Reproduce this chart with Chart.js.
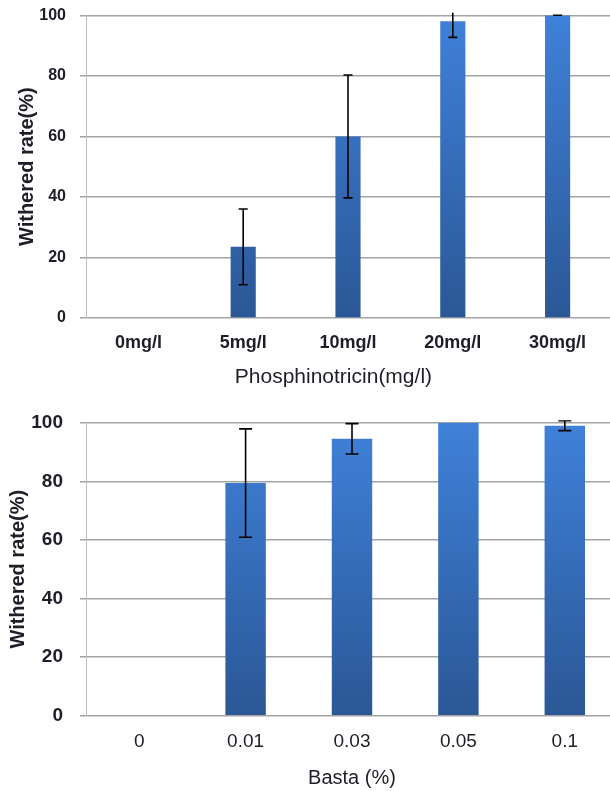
<!DOCTYPE html>
<html>
<head>
<meta charset="utf-8">
<script src="https://cdn.jsdelivr.net/npm/chart.js@4/dist/chart.umd.min.js"></script>
<style>
  html, body { margin: 0; padding: 0; background: #fff; overflow: hidden; }
  #wrap { position: relative; width: 610px; height: 791px; overflow: hidden; }
  #top { position: absolute; left: 0; top: 0; width: 610px; height: 395px; }
  #bot { position: absolute; left: 0; top: 395px; width: 618px; height: 396px; }
</style>
</head>
<body>
<div id="wrap">
  <div id="top"><canvas id="c1"></canvas></div>
  <div id="bot"><canvas id="c2"></canvas></div>
</div>
<script>
// ---- Data ----
const phosCategories = ['0mg/l', '5mg/l', '10mg/l', '20mg/l', '30mg/l'];
const phosValues     = [0, 23.5, 60, 98, 100];
const phosErrors     = [null, 12.5, 20.3, 5.3, 0];

const bastaCategories = ['0', '0.01', '0.03', '0.05', '0.1'];
const bastaValues     = [0, 79.4, 94.5, 100, 99];
const bastaErrors     = [null, 18.5, 5.2, null, 1.7];

const yTicks = [0, 20, 40, 60, 80, 100];

const FONT = "'Liberation Sans', Arial, Helvetica, sans-serif";
const TEXT = '#1e1e28';
const GRID = '#a3a3a3';

function barGradient(ctx) {
  const area = ctx.chart.chartArea;
  if (!area) return '#3569b8';
  const g = ctx.chart.ctx.createLinearGradient(0, area.top, 0, area.bottom);
  g.addColorStop(0, '#3f81d9');
  g.addColorStop(1, '#2b5796');
  return g;
}

const errorBarPlugin = {
  id: 'errorBars',
  afterDatasetsDraw(chart, args, opts) {
    const ctx = chart.ctx;
    const yScale = chart.scales.y;
    const area = chart.chartArea;
    chart.data.datasets.forEach((ds, di) => {
      const meta = chart.getDatasetMeta(di);
      const errs = ds.errors || [];
      meta.data.forEach((el, i) => {
        const e = errs[i];
        if (e === null || e === undefined) return;
        const v = ds.data[i];
        const x = el.x;
        const yHi = yScale.getPixelForValue(v + e);
        const yLo = yScale.getPixelForValue(v - e);
        const half = opts.capWidth / 2;
        ctx.save();
        ctx.beginPath();
        ctx.rect(area.left, area.top - 2.5, area.right - area.left, area.bottom - area.top + 5);
        ctx.clip();
        ctx.strokeStyle = '#000';
        ctx.lineWidth = 1.6;
        ctx.beginPath();
        ctx.moveTo(x, yHi); ctx.lineTo(x, yLo);
        ctx.moveTo(x - half, yHi); ctx.lineTo(x + half, yHi);
        ctx.moveTo(x - half, yLo); ctx.lineTo(x + half, yLo);
        ctx.stroke();
        ctx.restore();
      });
    });
  }
};

function makeChart(canvasId, cfg) {
  return new Chart(document.getElementById(canvasId), {
    type: 'bar',
    data: {
      labels: cfg.labels,
      datasets: [{
        data: cfg.values,
        errors: cfg.errors,
        backgroundColor: barGradient,
        borderWidth: 0,
        barPercentage: cfg.barPct,
        categoryPercentage: 1
      }]
    },
    options: {
      responsive: true,
      maintainAspectRatio: false,
      animation: false,
      devicePixelRatio: 1,
      layout: { padding: { top: cfg.padTop, left: 0, right: 0, bottom: 0 } },
      plugins: {
        legend: { display: false },
        tooltip: { enabled: false },
        errorBars: { capWidth: cfg.cap }
      },
      scales: {
        x: {
          type: 'category',
          offset: true,
          grid: { display: false, drawTicks: false },
          border: { display: false },
          ticks: {
            color: TEXT,
            font: { family: FONT, size: cfg.xTickSize, weight: cfg.xTickWeight },
            padding: cfg.xTickPad,
            maxRotation: 0,
            autoSkip: false
          },
          title: {
            display: true,
            text: cfg.xTitle,
            color: TEXT,
            font: { family: FONT, size: cfg.xTitleSize, weight: 'normal' },
            padding: { top: 0, bottom: cfg.xTitlePadBottom }
          },
          afterFit(scale) { scale.height = cfg.xAxisHeight; scale.paddingLeft = 0; scale.paddingRight = 0; }
        },
        y: {
          min: 0,
          max: 100,
          afterBuildTicks(scale) { scale.ticks = yTicks.map(v => ({ value: v })); },
          grid: { color: GRID, lineWidth: 1.5, tickLength: 6, tickColor: GRID, drawTicks: true },
          border: { display: true, color: '#bdbdbd', width: 1 },
          ticks: {
            color: TEXT,
            font: { family: FONT, size: cfg.yTickSize, weight: 'bold' },
            padding: cfg.yTickPad
          },
          title: {
            display: true,
            text: 'Withered rate(%)',
            color: TEXT,
            font: { family: FONT, size: 20, weight: 'bold' },
            padding: { top: cfg.yTitlePadTop, bottom: 0 }
          },
          afterFit(scale) { scale.width = 86; scale.paddingTop = 0; scale.paddingBottom = 0; }
        }
      }
    },
    plugins: [errorBarPlugin]
  });
}

makeChart('c1', {
  labels: phosCategories, values: phosValues, errors: phosErrors,
  barPct: 0.24, cap: 9, padTop: 15.3,
  xTickSize: 18, xTickWeight: 'bold', xTickPad: 14,
  xTitle: 'Phosphinotricin(mg/l)     ', xTitleSize: 21, xTitlePadBottom: 5, xAxisHeight: 77,
  yTickSize: 16, yTickPad: 14, yTitlePadTop: 15
});

makeChart('c2', {
  labels: bastaCategories, values: bastaValues, errors: bastaErrors,
  barPct: 0.38, cap: 13, padTop: 27.7,
  xTickSize: 19, xTickWeight: 'normal', xTickPad: 15,
  xTitle: 'Basta (%)', xTitleSize: 20, xTitlePadBottom: 1, xAxisHeight: 75.3,
  yTickSize: 19, yTickPad: 17, yTitlePadTop: 6.5
});
</script>
</body>
</html>
